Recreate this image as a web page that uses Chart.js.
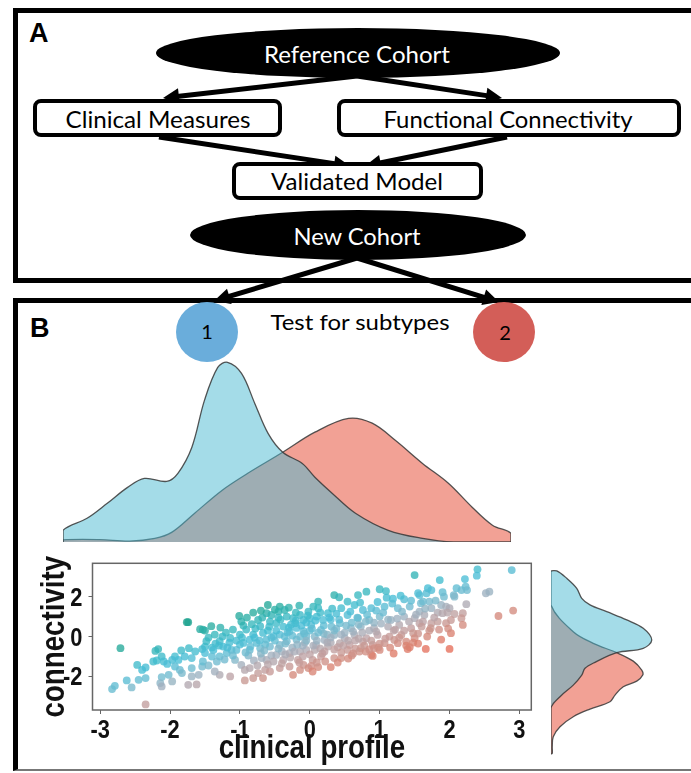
<!DOCTYPE html>
<html>
<head>
<meta charset="utf-8">
<script src="https://cdn.jsdelivr.net/npm/chart.js@4.4.0/dist/chart.umd.min.js"></script>
<style>
html, body { margin: 0; padding: 0; background: #fff; }
#page { position: relative; width: 691px; height: 773px; overflow: hidden; background: #fff; }
#panelA { position: absolute; box-sizing: border-box; left: 13px; top: 8px; width: 720px; height: 275px; border: 5px solid #000; }
#panelB { position: absolute; box-sizing: border-box; left: 13px; top: 298px; width: 720px; height: 473px;
  border-top: 5px solid #000; border-left: 5px solid #000; border-bottom: 2px solid #777; }
#diagram { position: absolute; left: 0; top: 0; }
canvas { position: absolute; }
#topDensity { left: 58px; top: 345px; }
#scatter { left: 0; top: 540px; }
#sideDensity { left: 546px; top: 560px; }
</style>
</head>
<body>
<div id="page">
  <div id="panelA"></div>
  <div id="panelB"></div>
  <svg id="diagram" width="691" height="773"></svg>
  <canvas id="topDensity" width="458" height="202"></canvas>
  <canvas id="scatter" width="545" height="233"></canvas>
  <canvas id="sideDensity" width="120" height="202"></canvas>
</div>
<script>
// ---- data ----
const xTicks = [-3, -2, -1, 0, 1, 2, 3];
const yTicks = [-2, 0, 2];
const xTitle = 'clinical profile';
const yTitle = 'connectivity';

// clinical profile vs connectivity
const scatterPoints = [
  [-1.76,0.72],[-1.74,0.72],[-1.57,0.37],[-1.50,0.30],[-2.71,-0.58],[-2.21,-0.72],[-2.17,-0.63],[-1.84,-0.70],
  [-1.73,-0.58],[-1.64,-0.75],[-1.54,-0.63],[-1.93,-1.00],[-1.79,-1.00],[-1.69,-1.08],[-2.12,-1.00],[-2.24,-1.25],
  [-2.19,-1.20],[-2.09,-1.25],[-1.97,-1.17],[-1.88,-1.17],[-2.04,-1.37],[-2.47,-1.42],[-2.35,-1.55],[-2.40,-1.67],
  [-1.93,-1.50],[-1.86,-1.67],[-1.69,-1.58],[-1.54,-1.50],[-1.83,-1.83],[-2.02,-1.92],[-2.12,-2.03],[-1.69,-2.00],
  [-1.59,-1.92],[-2.35,-2.08],[-2.45,-2.17],[-2.62,-2.20],[-1.97,-2.25],[-2.14,-2.33],[-2.12,-2.50],[-1.74,-2.42],
  [-1.62,-2.40],[-2.55,-2.55],[-2.79,-2.47],[-2.83,-2.63],[-2.35,-3.40],[-1.50,-0.50],
  [-1.53,0.35],[-1.41,0.52],[-1.36,0.10],[-1.48,-0.23],[-1.29,-0.23],[-1.24,-0.50],[-1.38,-0.67],[-1.50,-0.83],
  [-1.40,-1.00],[-1.53,-1.25],[-1.29,-1.00],[-1.19,-0.83],[-1.12,-0.67],[-1.14,-0.07],[-1.00,0.10],[-1.01,1.03],
  [-0.81,1.20],[-0.74,0.83],[-0.71,0.52],[-0.60,1.58],[-0.62,1.17],[-0.55,1.08],[-0.43,1.50],[-0.45,1.25],
  [-0.36,1.33],[-0.33,1.00],[-0.57,0.75],[-0.48,0.67],[-0.38,0.50],[-0.24,0.92],[-0.14,1.08],[-0.09,0.83],
  [-0.02,1.25],[0.00,0.92],[-0.91,0.35],[-0.81,0.10],[-0.67,0.18],[-0.95,-0.32],[-0.86,-0.15],[-0.76,-0.32],
  [-0.62,-0.15],[-0.52,0.02],[-0.43,0.10],[-0.29,0.27],[-0.19,0.43],[-0.09,0.27],[-1.05,-0.67],[-0.86,-0.67],
  [-0.71,-0.58],[-0.57,-0.50],[-0.43,-0.42],[-0.33,-0.23],[-0.19,-0.15],[-0.05,0.02],[-1.07,-1.17],[-0.98,-1.42],
  [-0.86,-1.58],[-0.93,-1.67],[-0.74,-1.83],[-0.81,-2.08],[-0.93,-2.20],[-0.64,-1.67],[-0.57,-1.75],[-0.67,-2.08],
  [-0.43,-1.58],[-0.29,-1.50],[-0.24,-1.92],[-0.14,-1.67],[-0.09,-1.42],[-0.02,-1.58],[-0.17,-1.17],[-0.38,-1.17],
  [-0.62,-1.17],[-0.69,-1.08],[-0.48,-0.92],[-0.29,-0.83],[-0.14,-0.75],[-0.05,-0.67],[-1.14,-2.00],[-1.29,-1.92],
  [-1.36,-1.75],
  [1.50,3.08],[0.35,2.08],[0.42,1.97],[0.12,1.75],[0.54,1.75],[0.69,2.08],[0.81,2.25],[1.00,2.37],
  [1.09,2.28],[1.55,2.17],[1.35,1.87],[1.19,1.90],[0.97,1.73],[0.12,1.42],[0.26,1.17],[0.19,0.83],
  [0.45,1.42],[0.64,1.58],[0.76,1.33],[0.88,1.42],[1.07,1.50],[1.26,1.42],[1.43,1.50],[1.59,1.67],
  [0.54,1.08],[0.69,0.92],[0.85,0.83],[1.00,1.00],[1.16,0.83],[1.35,1.00],[1.50,0.92],[0.02,0.58],
  [0.16,0.33],[0.31,0.50],[0.43,0.67],[0.59,0.42],[0.73,0.50],[0.92,0.42],[1.12,0.50],[1.28,0.58],
  [1.45,0.42],[1.57,0.67],[0.07,0.00],[0.21,-0.17],[0.35,0.08],[0.50,-0.08],[0.64,0.08],[0.81,-0.08],
  [0.97,0.08],[1.14,0.00],[1.31,0.08],[1.48,0.17],[1.50,-0.08],[0.09,-0.42],[0.26,-0.50],[0.43,-0.33],
  [0.57,-0.42],[0.76,-0.25],[0.90,-0.42],[1.07,-0.33],[1.21,-0.17],[1.38,-0.25],[0.07,-0.67],[0.21,-0.75],
  [0.40,-0.53],[0.54,-0.67],[0.73,-0.58],[0.92,-0.58],[1.26,-0.33],[1.40,-0.63],[1.43,-0.53],[0.04,-1.17],
  [0.16,-1.00],[0.35,-1.08],[0.45,-1.08],[0.71,-0.75],[0.88,-0.92],[0.90,-0.97],[1.00,-0.67],[0.02,-1.47],
  [0.12,-1.53],[0.04,-1.75],[0.30,-1.53],
  [2.40,3.37],[2.39,3.05],[2.89,3.33],[2.22,2.88],[1.86,2.83],[1.69,2.42],[1.74,2.33],[1.90,2.22],
  [2.10,2.42],[2.17,2.33],[2.23,2.50],[2.25,2.33],[2.06,2.08],[2.07,2.00],[2.52,2.17],[2.57,2.25],
  [1.57,2.08],[1.67,2.17],[1.62,1.75],[1.71,1.75],[1.74,1.42],[1.88,1.58],[1.95,1.50],[2.00,1.42],
  [2.24,1.62],[1.57,1.25],[1.64,1.08],[1.83,1.20],[1.90,1.17],[1.97,1.20],[2.07,1.13],[2.19,1.17],
  [1.62,0.75],[1.74,0.67],[1.83,0.75],[1.95,0.67],[2.02,0.83],[2.17,0.92],[2.19,0.58],[1.73,0.42],
  [1.71,0.30],[2.02,0.17],[2.70,1.03],[2.91,1.30],[1.66,-0.62],[2.00,-0.62],
  [-0.36,0.00],[-0.50,-0.20],[-0.64,-0.40],[-0.79,-0.05],[-0.21,0.67],[-0.14,0.00],[-0.07,-0.30],[-0.25,-0.55],
  [-0.40,-0.75],[-0.55,-0.95],[-0.70,-0.85],[-0.85,-0.50],[-1.00,-0.40],[-1.15,-0.30],[-1.30,-0.45],[-1.20,0.20],
  [-0.95,0.55],[-0.60,0.30],[-0.30,0.45],[0.00,0.30],[0.20,0.15],[0.35,0.30],[0.50,0.20],[0.65,-0.20],
  [0.30,-0.30],[0.15,-0.60],[0.00,-0.90],[-0.10,-0.45],[0.45,-0.80],[0.60,-0.95],[0.80,-0.75],[1.00,-0.35],
  [0.95,0.25],[1.20,0.30],[0.80,0.75],[0.60,0.70],[0.30,0.85],[0.10,1.00],[-0.20,1.20],[-0.05,0.70],
  [-1.45,-0.05],[-1.35,-0.35],[-1.25,0.00],[-1.18,-0.55],[-1.10,-0.95],[-1.05,-0.20],[-1.22,-1.15],[-1.45,-1.45],
  [-1.33,-1.25],[-1.10,0.35],[-1.28,0.45],[-1.40,-0.55],[-0.98,0.75],[-0.90,0.95],[-0.88,-0.95],[-0.80,-1.20],
  [-0.78,0.40],[-0.72,-0.20],[-0.68,0.95],[-0.65,-0.70],[-0.60,-1.40],[-0.58,0.50],[-0.55,-0.05],[-0.52,-1.25],
  [-0.92,-0.80],[-0.97,-0.05],[-0.83,0.62],[-0.75,-1.45],[-0.70,1.30],[-0.50,1.35],[-0.48,0.30],[-0.45,-0.60],
  [-0.42,0.85],[-0.40,-1.35],[-0.35,-0.35],[-0.32,0.20],[-0.30,1.45],[-0.28,-1.05],[-0.25,0.05],[-0.22,-0.75],
  [-0.20,0.80],[-0.18,-0.40],[-0.15,1.55],[-0.12,0.55],[-0.10,-1.00],[-0.08,0.15],[-0.05,-0.20],[-0.03,1.05],
  [-0.45,0.95],[-0.35,-0.90],[-0.15,-1.30],[-0.27,0.60],[0.03,0.40],[0.05,-0.45],[0.08,0.80],[0.10,-0.20],
  [0.12,0.20],[0.15,1.20],[0.18,-0.85],[0.20,0.55],[0.22,-1.25],[0.25,0.10],[0.28,0.95],[0.30,-0.05],
  [0.32,1.40],[0.35,-0.65],[0.38,0.40],[0.40,-1.30],[0.42,0.85],[0.45,0.10],[0.48,-0.45],[0.05,1.50],
  [0.25,-0.30],[0.38,1.15],[0.10,-1.30],[0.52,0.55],[0.55,-0.20],[0.58,1.25],[0.62,0.25],[0.65,-0.60],
  [0.68,0.95],[0.70,-0.10],[0.72,1.70],[0.75,0.20],[0.78,-0.45],[0.82,1.10],[0.85,0.30],[0.88,-0.20],
  [0.92,0.70],[0.95,1.30],[0.98,-0.55],[0.55,-1.10],[0.62,-0.85],[0.85,-0.65],[0.70,0.60],[1.02,0.65],
  [1.05,1.20],[1.08,-0.10],[1.12,0.85],[1.15,-0.55],[1.18,1.65],[1.22,0.35],[1.25,0.90],[1.28,-0.05],
  [1.32,1.25],[1.35,0.30],[1.38,-0.45],[1.42,0.75],[1.45,1.80],[1.48,-0.30],[1.10,1.95],[1.30,2.05],
  [1.20,-0.85],[1.52,1.10],[1.55,0.15],[1.60,0.50],[1.65,1.40],[1.68,0.00],[1.78,0.95],[1.80,1.80],
  [1.85,0.35],[1.92,2.00],[1.98,0.40],[1.55,-0.35],[1.88,-0.15]
];

// marginal density of clinical profile (top)
const clinGrid1 = [-3.534,-3.534,-3.19,-2.90,-2.61,-2.37,-2.05,-1.89,-1.69,-1.51,-1.32,-1.18,-0.98,-0.79,-0.60,-0.39,-0.11,0.07,0.32,0.65,1.12,1.61,2.05,2.876];
const clinDens1 = [0,0.039,0.079,0.129,0.182,0.212,0.202,0.229,0.316,0.472,0.582,0.599,0.562,0.462,0.362,0.299,0.262,0.216,0.162,0.096,0.039,0.012,0,0];
const clinGrid2 = [-3.534,-3.534,-3.01,-2.58,-2.22,-1.98,-1.65,-1.26,-0.89,-0.39,0.07,0.55,0.89,1.22,1.61,1.98,2.32,2.61,2.876,2.876];
const clinDens2 = [0,0.007,0.008,0.003,0.012,0.032,0.096,0.172,0.229,0.299,0.366,0.412,0.396,0.339,0.262,0.196,0.116,0.056,0.029,0];

// marginal density of connectivity (right)
const connGrid1 = [3.29,3.29,2.92,2.42,1.92,1.59,1.25,0.84,0.42,-0.17,-0.58,-0.80,-1.28,-1.58,-1.92,-2.42,-3.00,-3.58,-5.87];
const connDens1 = [0,0.023,0.063,0.103,0.123,0.156,0.223,0.303,0.369,0.403,0.369,0.263,0.176,0.136,0.123,0.089,0.036,0,0];
const connGrid2 = [3.29,1.59,0.25,-0.33,-0.80,-1.22,-1.67,-1.92,-2.22,-2.50,-2.92,-3.25,-3.62,-4.00,-4.50,-5.00,-5.50,-5.83,-5.87];
const connDens2 = [0,0,0.089,0.169,0.263,0.329,0.363,0.367,0.343,0.289,0.256,0.236,0.156,0.089,0.036,0.009,0.005,0.005,0];

// ---- diagram (panel A + subtype circles) ----
const svg = document.getElementById('diagram');
const txtFont = "Lato, 'Open Sans', sans-serif";
function arrow(x1, y1, x2, y2) {
  const len = Math.hypot(x2 - x1, y2 - y1), ux = (x2 - x1) / len, uy = (y2 - y1) / len;
  const hl = 16, hw = 8;
  const bx = x2 - ux * hl, by = y2 - uy * hl;
  return `<line x1="${x1}" y1="${y1}" x2="${bx + ux * 2}" y2="${by + uy * 2}" stroke="#000" stroke-width="5"/>` +
    `<polygon fill="#000" points="${x2},${y2} ${bx - uy * hw},${by + ux * hw} ${bx + uy * hw},${by - ux * hw}"/>`;
}
function label(x, y, s, w, size, color) {
  return `<text x="${x}" y="${y}" text-anchor="middle" font-family="${txtFont}" font-size="${size}" fill="${color}" textLength="${w}" lengthAdjust="spacingAndGlyphs">${s}</text>`;
}
svg.innerHTML =
  arrow(357, 76, 163, 98) + arrow(357, 76, 502, 98) +
  arrow(159, 137, 350, 166) + arrow(507, 137, 365, 166) +
  arrow(357, 258, 214, 301) + arrow(357, 258, 499, 302) +
  `<ellipse cx="358" cy="53" rx="202" ry="25" fill="#000"/>` +
  `<ellipse cx="358" cy="235" rx="168" ry="25" fill="#000"/>` +
  `<rect x="35" y="101" width="245" height="34" rx="6" fill="#fff" stroke="#000" stroke-width="4"/>` +
  `<rect x="339" y="101" width="340" height="34" rx="6" fill="#fff" stroke="#000" stroke-width="4"/>` +
  `<rect x="234" y="164" width="247" height="34" rx="6" fill="#fff" stroke="#000" stroke-width="4"/>` +
  `<ellipse cx="207" cy="332" rx="31" ry="30" fill="#6aaddb"/>` +
  `<ellipse cx="504" cy="332" rx="31" ry="30" fill="#d35e58"/>` +
  label(357, 63, 'Reference Cohort', 186, 23, '#fff') +
  label(158, 128, 'Clinical Measures', 185, 23, '#000') +
  label(508, 128, 'Functional Connectivity', 249, 23, '#000') +
  label(357, 190, 'Validated Model', 172, 23, '#000') +
  label(357, 245, 'New Cohort', 127, 23, '#fff') +
  label(360, 330, 'Test for subtypes', 179, 21, '#000') +
  `<text x="207" y="339" text-anchor="middle" font-family="${txtFont}" font-size="20" fill="#000">1</text>` +
  `<text x="505" y="340" text-anchor="middle" font-family="${txtFont}" font-size="20" fill="#000">2</text>` +
  `<text x="29" y="42" font-family="'Liberation Sans', Arial, sans-serif" font-weight="bold" font-size="27" fill="#000">A</text>` +
  `<text x="30" y="337" font-family="'Liberation Sans', Arial, sans-serif" font-weight="bold" font-size="27" fill="#000">B</text>`;

// ---- charts ----
const axisFont = "'Liberation Sans', Arial, sans-serif";
const squeeze = 0.84;   // condensed look of the axis lettering
const blueFill = 'rgba(73,185,209,0.5)';
const redFill = 'rgb(242,161,149)';
const edge = 'rgba(55,55,55,0.85)';

const colorStops = [
  [-2.4, [230, 110, 90]], [-1.9, [220, 128, 110]], [-1.4, [204, 148, 140]], [-0.9, [190, 162, 164]],
  [-0.4, [162, 176, 190]], [0.1, [110, 187, 208]], [0.7, [72, 190, 214]], [1.4, [56, 184, 192]],
  [2.0, [40, 172, 158]], [2.6, [26, 160, 138]]
];
function pointColor(p) {
  const r = p.y - p.x;
  const last = colorStops.length - 1;
  if (r <= colorStops[0][0]) return `rgba(${colorStops[0][1]},0.78)`;
  if (r >= colorStops[last][0]) return `rgba(${colorStops[last][1]},0.78)`;
  for (let i = 1; i <= last; i++) {
    if (r <= colorStops[i][0]) {
      const [r0, c0] = colorStops[i - 1], [r1, c1] = colorStops[i];
      const t = (r - r0) / (r1 - r0);
      const c = c0.map((v, k) => Math.round(v + (c1[k] - v) * t));
      return `rgba(${c},0.78)`;
    }
  }
}

const noPlugins = { legend: { display: false }, tooltip: { enabled: false } };

new Chart(document.getElementById('topDensity'), {
  type: 'line',
  data: {
    datasets: [
      { data: clinGrid1.map((x, i) => ({ x, y: clinDens1[i] })), backgroundColor: blueFill, borderColor: edge,
        borderWidth: 1.3, fill: 'origin', pointRadius: 0, tension: 0.35 },
      { data: clinGrid2.map((x, i) => ({ x, y: clinDens2[i] })), backgroundColor: redFill, borderColor: edge,
        borderWidth: 1.3, fill: 'origin', pointRadius: 0, tension: 0.35 }
    ]
  },
  options: {
    responsive: false, animation: false, layout: { padding: 5 }, plugins: noPlugins,
    scales: {
      x: { type: 'linear', display: false, min: -3.534, max: 2.876 },
      y: { display: false, min: 0, max: 0.64 }
    }
  }
});

new Chart(document.getElementById('sideDensity'), {
  type: 'line',
  data: {
    datasets: [
      { data: connGrid1.map((y, i) => ({ x: connDens1[i], y })), backgroundColor: blueFill, borderColor: edge,
        borderWidth: 1.3, fill: 'origin', pointRadius: 0, tension: 0.35 },
      { data: connGrid2.map((y, i) => ({ x: connDens2[i], y })), backgroundColor: redFill, borderColor: edge,
        borderWidth: 1.3, fill: 'origin', pointRadius: 0, tension: 0.35 }
    ]
  },
  options: {
    indexAxis: 'y', responsive: false, animation: false, layout: { padding: 5 }, plugins: noPlugins,
    scales: {
      x: { type: 'linear', display: false, min: 0, max: 0.44 },
      y: { type: 'linear', display: false, min: -6.015, max: 3.585 }
    }
  }
});

// box round the plot area, plus condensed tick labels and axis titles
const frameAndLabels = {
  id: 'frameAndLabels',
  afterDraw(chart) {
    const { ctx, chartArea: a, scales: { x, y } } = chart;
    ctx.save();
    ctx.strokeStyle = '#666';
    ctx.lineWidth = 1.5;
    ctx.strokeRect(a.left, a.top, a.right - a.left, a.bottom - a.top);
    ctx.restore();
    const put = (s, px, py, size, align, rotate) => {
      ctx.save();
      ctx.translate(px, py);
      if (rotate) ctx.rotate(-Math.PI / 2);
      ctx.scale(squeeze, 1);
      ctx.font = `bold ${size}px ${axisFont}`;
      ctx.fillStyle = '#111';
      ctx.textAlign = align;
      ctx.textBaseline = 'alphabetic';
      ctx.fillText(s, 0, 0);
      ctx.restore();
    };
    put(xTitle, (a.left + a.right) / 2, a.bottom + 48, 33, 'center');
    put(yTitle, a.left - 29, (a.top + a.bottom) / 2, 33, 'center', true);
    xTicks.forEach(v => put(String(v), x.getPixelForValue(v), a.bottom + 28, 26, 'center'));
    yTicks.forEach(v => put(String(v), a.left - 10, y.getPixelForValue(v) + 9, 26, 'right'));
  }
};

new Chart(document.getElementById('scatter'), {
  type: 'scatter',
  data: {
    datasets: [{
      data: scatterPoints.map(([x, y]) => ({ x, y })),
      pointRadius: 3.9, pointBorderWidth: 0,
      backgroundColor: ctx => pointColor(ctx.raw)
    }]
  },
  options: {
    responsive: false, animation: false, plugins: noPlugins,
    layout: { padding: { left: 0, right: 13.7, top: 23.3, bottom: 0 } },
    scales: {
      x: {
        min: -3.11, max: 3.17,
        afterBuildTicks: s => { s.ticks = xTicks.map(v => ({ value: v })); },
        afterFit: s => { s.height = 63; },
        border: { display: false },
        grid: { drawOnChartArea: false, tickLength: 4, color: '#666' },
        ticks: { display: false }
      },
      y: {
        min: -3.68, max: 3.67,
        afterBuildTicks: s => { s.ticks = yTicks.map(v => ({ value: v })); },
        afterFit: s => { s.width = 92.5; },
        border: { display: false },
        grid: { drawOnChartArea: false, tickLength: 4, color: '#666' },
        ticks: { display: false }
      }
    }
  },
  plugins: [frameAndLabels]
});
</script>
</body>
</html>
